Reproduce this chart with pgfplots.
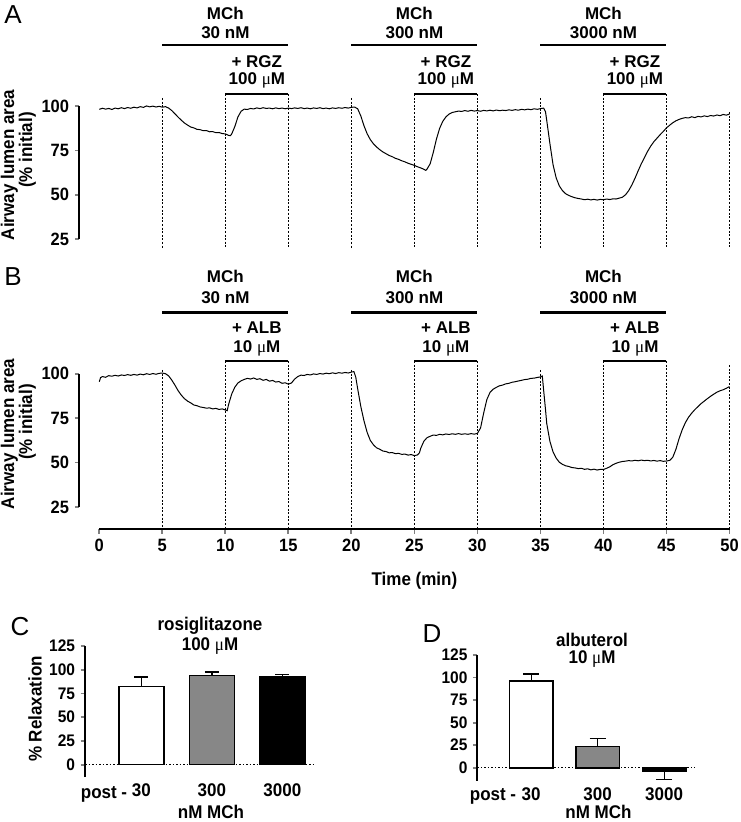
\documentclass[border=0pt]{standalone}
\usepackage{pgfplots}
\pgfplotsset{compat=1.18}
\usepackage{graphicx}
\usepackage{fontspec}
\setmainfont{Liberation Sans}
\newfontfamily\seriff{Liberation Serif}
\newcommand{\um}{{\seriff\mdseries μ}M}
\newcommand{\vs}[1]{\scalebox{1}[1.08]{#1}}
\newcommand{\fT}{\fontsize{16.5}{18}\selectfont\bfseries}
\newcommand{\fL}{\fontsize{17}{19}\selectfont\bfseries}
\newcommand{\fS}{\fontsize{15.5}{17}\selectfont\bfseries}
\newcommand{\fP}{\fontsize{26}{28}\selectfont\mdseries}
\tikzset{vdash/.style={black, line width=0.8pt, dash pattern=on 2pt off 1.6pt},
         hbar/.style={black, line width=2.2pt},
         every node/.append style={inner sep=0pt}}
\pgfplotsset{emark/.style 2 args={error bars/.cd, y dir=#2, y explicit, error bar style={line width=1.3pt},
  error mark options={rotate=90, line width=1.3pt, mark size=#1, black}}}
\begin{document}
\begin{tikzpicture}
\path[use as bounding box] (0pt,0pt) rectangle (740pt,-822pt);
% ---------------- Panel A ----------------
\begin{axis}[
  at={(99.3pt,-239pt)}, anchor=south west,
  scale only axis, width=630.2pt, height=132.7pt,
  xmin=0, xmax=50, ymin=25, ymax=100,
  clip=false, hide x axis,
  axis y line*=left, axis y line shift=20pt,
  ytick={25,50,75,100},
  tick align=outside, major tick length=4.5pt,
  y axis line style={line width=1.8pt},
  ytick style={line width=1.8pt},
  yticklabel style={font=\fT, inner sep=0pt, xshift=-5.5pt},
  yticklabel={\vs{\pgfmathprintnumber{\tick}}},
  /pgf/number format/assume math mode=true,
]
\foreach \t in {5,20,35} {\edef\tmp{\noexpand\draw[vdash] (axis cs:\t,104.7) -- (axis cs:\t,19.9);}\tmp}
\foreach \t in {10,15,25,30,40,45} {\edef\tmp{\noexpand\draw[vdash] (axis cs:\t,106.9) -- (axis cs:\t,19.9);}\tmp}
\draw[vdash] (axis cs:50,96.8) -- (axis cs:50,19.9);
\draw[hbar] (axis cs:5,134.6) -- (axis cs:15,134.6);
\draw[hbar] (axis cs:10,106.95) -- (axis cs:15,106.95);
\draw[hbar] (axis cs:20,134.6) -- (axis cs:30,134.6);
\draw[hbar] (axis cs:25,106.95) -- (axis cs:30,106.95);
\draw[hbar] (axis cs:35,134.6) -- (axis cs:45,134.6);
\draw[hbar] (axis cs:40,106.95) -- (axis cs:45,106.95);
\node[font=\fL] at (axis cs:10,152.7) {MCh};
\node[font=\fL] at (axis cs:10,141.4) {30 nM};
\node[font=\fL] at (axis cs:12.5,125.3) {+ RGZ};
\node[font=\fL] at (axis cs:12.5,114.7) {100 \um};
\node[font=\fL] at (axis cs:25,152.7) {MCh};
\node[font=\fL] at (axis cs:25,141.4) {300 nM};
\node[font=\fL] at (axis cs:27.5,125.3) {+ RGZ};
\node[font=\fL] at (axis cs:27.5,114.7) {100 \um};
\node[font=\fL] at (axis cs:40,152.7) {MCh};
\node[font=\fL] at (axis cs:40,141.4) {3000 nM};
\node[font=\fL] at (axis cs:42.5,125.3) {+ RGZ};
\node[font=\fL] at (axis cs:42.5,114.7) {100 \um};
\addplot[black, line width=1pt] table {
x y
0.00 98.3
0.25 98.9
0.50 98.4
0.75 98.8
1.00 98.2
1.25 99.0
1.50 98.6
1.75 99.2
2.00 98.7
2.25 99.3
2.50 98.9
2.75 99.5
3.00 99.1
3.25 99.8
3.50 99.4
3.75 100.2
4.00 99.7
4.25 100.1
4.50 99.6
4.75 100.0
5.00 99.5
5.25 99.8
5.50 99.0
5.75 97.6
6.00 95.8
6.25 93.9
6.50 92.2
6.75 90.6
7.00 89.4
7.25 88.3
7.50 87.8
7.75 87.0
8.00 86.8
8.25 86.2
8.50 86.3
8.75 85.6
9.00 85.7
9.25 85.1
9.50 85.2
9.75 84.6
10.00 84.4
10.25 83.6
10.40 83.4
10.50 84.3
10.75 88.5
11.00 94.0
11.25 97.2
11.50 98.4
11.75 98.2
12.00 98.8
12.25 98.5
12.50 99.1
12.75 98.7
13.00 99.2
13.25 98.8
13.50 99.0
13.75 98.6
14.00 99.1
14.25 98.7
14.50 99.0
14.75 98.6
15.00 99.0
15.25 98.7
15.50 99.1
15.75 98.8
16.00 99.2
16.25 98.7
16.50 99.0
16.75 98.6
17.00 99.1
17.25 98.8
17.50 99.2
17.75 98.7
18.00 99.0
18.25 98.6
18.50 99.1
18.75 98.8
19.00 99.2
19.25 98.9
19.50 99.3
19.75 99.0
20.00 99.4
20.25 99.6
20.50 98.6
20.75 94.5
21.00 89.0
21.25 84.5
21.50 81.2
21.75 78.8
22.00 77.0
22.25 75.5
22.50 74.2
22.75 73.2
23.00 72.2
23.25 71.5
23.50 70.6
23.75 70.0
24.00 69.2
24.25 68.6
24.50 67.8
24.75 67.2
25.00 66.6
25.25 65.8
25.50 65.2
25.75 64.4
25.90 63.8
26.00 64.5
26.25 67.5
26.50 74.0
26.75 81.5
27.00 87.5
27.25 91.5
27.50 94.0
27.75 95.6
28.00 96.5
28.25 96.9
28.50 97.3
28.75 97.1
29.00 97.6
29.25 97.2
29.50 97.7
29.75 97.3
30.00 97.6
30.25 97.2
30.50 97.7
30.75 97.4
31.00 97.8
31.25 97.4
31.50 97.9
31.75 97.5
32.00 97.8
32.25 97.6
32.50 98.0
32.75 97.7
33.00 98.1
33.25 97.8
33.50 98.3
33.75 98.0
34.00 98.4
34.25 98.1
34.50 98.6
34.75 98.3
35.00 98.7
35.25 99.0
35.40 97.0
35.50 92.0
35.75 79.0
36.00 67.0
36.25 59.5
36.50 55.0
36.75 52.3
37.00 50.6
37.25 49.6
37.50 48.9
37.75 48.3
38.00 47.9
38.25 47.6
38.50 47.2
38.75 47.5
39.00 47.1
39.25 47.4
39.50 47.0
39.75 47.4
40.00 47.2
40.25 47.6
40.50 47.3
40.75 47.7
41.00 47.6
41.25 48.1
41.50 48.6
41.75 50.0
42.00 52.3
42.25 55.5
42.50 59.3
42.75 63.5
43.00 67.5
43.25 71.0
43.50 74.5
43.75 77.5
44.00 80.0
44.25 82.0
44.50 84.0
44.75 85.8
45.00 87.8
45.25 89.3
45.50 90.7
45.75 91.8
46.00 92.6
46.25 93.2
46.50 93.6
46.75 93.4
47.00 94.1
47.25 93.6
47.50 94.3
47.75 94.0
48.00 94.6
48.25 94.2
48.50 94.8
48.75 94.5
49.00 95.1
49.25 94.7
49.50 95.4
49.75 95.0
50.00 95.6
};
\end{axis}
% ---------------- Panel B ----------------
\begin{axis}[
  at={(99.3pt,-507pt)}, anchor=south west,
  scale only axis, width=630.2pt, height=133.3pt,
  xmin=0, xmax=50, ymin=25, ymax=100,
  clip=false,
  axis x line*=bottom, axis y line*=left,
  axis y line shift=20pt, axis x line shift=22pt,
  ytick={25,50,75,100}, xtick={0,5,...,50},
  tick align=outside, major tick length=4.5pt,
  axis line style={line width=1.8pt},
  tick style={line width=1.8pt},
  ticklabel style={font=\fT},
  yticklabel style={inner sep=0pt, xshift=-5.5pt},
  xticklabel style={inner sep=0pt, yshift=-5.5pt},
  yticklabel={\vs{\pgfmathprintnumber{\tick}}},
  xticklabel={\vs{\pgfmathprintnumber{\tick}}},
  xlabel={\vs{Time (min)}}, xlabel style={font=\fL, inner sep=0pt, yshift=-20pt},
  /pgf/number format/assume math mode=true,
]
\foreach \t in {5,20,35} {\edef\tmp{\noexpand\draw[vdash] (axis cs:\t,102.1) -- (axis cs:\t,12.6);}\tmp}
\foreach \t in {10,15,25,30,40,45} {\edef\tmp{\noexpand\draw[vdash] (axis cs:\t,107.2) -- (axis cs:\t,12.6);}\tmp}
\draw[vdash] (axis cs:50,104.9) -- (axis cs:50,12.6);
\draw[hbar] (axis cs:5,134.5) -- (axis cs:15,134.5);
\draw[hbar] (axis cs:10,107.3) -- (axis cs:15,107.3);
\draw[hbar] (axis cs:20,134.5) -- (axis cs:30,134.5);
\draw[hbar] (axis cs:25,107.3) -- (axis cs:30,107.3);
\draw[hbar] (axis cs:35,134.5) -- (axis cs:45,134.5);
\draw[hbar] (axis cs:40,107.3) -- (axis cs:45,107.3);
\node[font=\fL] at (axis cs:10,154.6) {MCh};
\node[font=\fL] at (axis cs:10,142.6) {30 nM};
\node[font=\fL] at (axis cs:12.5,125.9) {+ ALB};
\node[font=\fL] at (axis cs:12.5,114.3) {10 \um};
\node[font=\fL] at (axis cs:25,154.6) {MCh};
\node[font=\fL] at (axis cs:25,142.6) {300 nM};
\node[font=\fL] at (axis cs:27.5,125.9) {+ ALB};
\node[font=\fL] at (axis cs:27.5,114.3) {10 \um};
\node[font=\fL] at (axis cs:40,154.6) {MCh};
\node[font=\fL] at (axis cs:40,142.6) {3000 nM};
\node[font=\fL] at (axis cs:42.5,125.9) {+ ALB};
\node[font=\fL] at (axis cs:42.5,114.3) {10 \um};
\addplot[black, line width=1pt] table {
x y
0.00 95.5
0.10 97.8
0.25 98.4
0.50 98.0
0.75 98.9
1.00 98.6
1.25 99.1
1.50 98.7
1.75 99.3
2.00 99.0
2.25 99.5
2.50 99.1
2.75 99.6
3.00 99.2
3.25 99.8
3.50 99.4
3.75 100.0
4.00 99.6
4.25 100.1
4.50 99.7
4.75 100.2
5.00 100.4
5.25 100.0
5.50 98.8
5.75 96.4
6.00 93.6
6.25 90.5
6.50 88.0
6.75 86.0
7.00 84.6
7.25 83.6
7.50 82.4
7.75 82.0
8.00 81.3
8.25 81.0
8.50 80.6
8.75 80.8
9.00 80.2
9.25 80.5
9.50 79.9
9.75 80.2
10.00 79.6
10.15 79.2
10.25 82.5
10.50 88.5
10.75 92.4
11.00 94.8
11.25 96.0
11.50 96.8
11.75 97.4
12.00 97.0
12.25 97.6
12.50 96.8
12.75 97.2
13.00 96.3
13.25 96.8
13.50 95.8
13.75 96.2
14.00 95.3
14.25 95.6
14.50 94.6
14.75 94.9
15.00 94.1
15.25 94.8
15.50 97.0
15.75 98.4
16.00 99.2
16.25 99.0
16.50 99.6
16.75 99.3
17.00 99.9
17.25 99.6
17.50 100.1
17.75 99.8
18.00 100.3
18.25 100.0
18.50 100.5
18.75 100.1
19.00 100.6
19.25 100.3
19.50 100.7
19.75 100.4
20.00 100.9
20.20 101.2
20.35 98.0
20.50 91.5
20.75 81.5
21.00 73.5
21.25 67.0
21.50 62.5
21.75 60.0
22.00 58.3
22.25 57.5
22.50 56.5
22.75 56.2
23.00 55.5
23.25 55.6
23.50 55.0
23.75 55.2
24.00 54.6
24.25 54.8
24.50 54.2
24.75 54.5
25.00 53.9
25.25 54.3
25.40 55.5
25.50 58.0
25.75 62.0
26.00 64.0
26.25 64.8
26.50 65.5
26.75 65.3
27.00 65.9
27.25 65.6
27.50 66.1
27.75 65.8
28.00 66.2
28.25 65.9
28.50 66.3
28.75 65.9
29.00 66.2
29.25 65.9
29.50 66.3
29.75 66.0
30.00 66.4
30.25 69.5
30.50 78.0
30.75 85.5
31.00 89.5
31.25 91.3
31.50 92.3
31.75 93.2
32.00 93.6
32.25 94.3
32.50 94.6
32.75 95.2
33.00 95.5
33.25 95.9
33.50 96.3
33.75 96.7
34.00 96.9
34.25 97.4
34.50 97.5
34.75 97.9
35.00 98.2
35.15 98.7
35.25 91.0
35.40 80.0
35.50 72.0
35.75 62.0
36.00 56.0
36.25 52.5
36.50 50.2
36.75 49.0
37.00 48.2
37.25 47.8
37.50 47.2
37.75 47.0
38.00 46.6
38.25 46.8
38.50 46.2
38.75 46.5
39.00 45.9
39.25 46.3
39.50 45.8
39.75 46.2
40.00 46.1
40.25 46.8
40.50 47.6
40.75 48.8
41.00 49.6
41.25 50.2
41.50 50.6
41.75 50.8
42.00 51.1
42.25 50.9
42.50 51.3
42.75 51.0
43.00 51.4
43.25 51.1
43.50 51.3
43.75 50.9
44.00 51.2
44.25 50.8
44.50 51.1
44.75 50.7
45.00 50.9
45.25 51.2
45.50 53.0
45.75 57.5
46.00 63.5
46.25 68.5
46.50 72.5
46.75 75.5
47.00 77.8
47.25 79.8
47.50 81.5
47.75 83.2
48.00 84.6
48.25 86.0
48.50 87.3
48.75 88.5
49.00 89.6
49.25 90.4
49.50 91.0
49.75 91.8
50.00 92.8
};
\end{axis}
% ---------------- Panel C ----------------
\begin{axis}[
  at={(85pt,-777pt)}, anchor=south west,
  scale only axis, width=229.8pt, height=131pt,
  xmin=0.2, xmax=3.46, ymin=-13, ymax=125,
  clip=false,
  axis x line*=bottom, axis y line*=left,
  x axis line style={draw=none}, xtick style={draw=none},
  xtick={1,2,3}, xticklabels={\vs{30},\vs{300},\vs{3000}},
  ytick={0,25,...,125},
  yticklabel={\vs{\pgfmathprintnumber{\tick}}},
  tick align=outside, major tick length=4.5pt,
  y axis line style={line width=1.8pt},
  ytick style={line width=1.8pt},
  ticklabel style={font=\fS},
  yticklabel style={inner sep=0pt, xshift=-5.2pt},
  xticklabel style={font=\fL, inner sep=0pt, yshift=-2pt},
  /pgf/number format/assume math mode=true,
]
\addplot[black, line width=0.9pt, dash pattern=on 1.5pt off 2pt] coordinates {(0.2,0) (3.46,0)};
\addplot[ybar, bar width=45pt, bar shift=0pt, fill=white, draw=black, line width=1.6pt,
  emark={7pt}{plus}] coordinates {(1,82.5) +- (0,10)};
\addplot[ybar, bar width=45pt, bar shift=0pt, fill=black!47, draw=black, line width=1.6pt,
  emark={7pt}{plus}] coordinates {(2,94) +- (0,3.5)};
\addplot[ybar, bar width=45pt, bar shift=0pt, fill=black, draw=black, line width=1.6pt,
  emark={7pt}{plus}] coordinates {(3,93) +- (0,2.2)};
\end{axis}
% ---------------- Panel D ----------------
\begin{axis}[
  at={(477.3pt,-780.7pt)}, anchor=south west,
  scale only axis, width=218.1pt, height=125.7pt,
  xmin=0.19, xmax=3.47, ymin=-14.4, ymax=125,
  clip=false,
  axis x line*=bottom, axis y line*=left,
  x axis line style={draw=none}, xtick style={draw=none},
  xtick={1,2,3}, xticklabels={\vs{30},\vs{300},\vs{3000}},
  ytick={0,25,...,125},
  yticklabel={\vs{\pgfmathprintnumber{\tick}}},
  tick align=outside, major tick length=4.5pt,
  y axis line style={line width=1.8pt},
  ytick style={line width=1.8pt},
  ticklabel style={font=\fS},
  yticklabel style={inner sep=0pt, xshift=-5.2pt},
  xticklabel style={font=\fL, inner sep=0pt, yshift=-2pt},
  /pgf/number format/assume math mode=true,
]
\addplot[black, line width=0.9pt, dash pattern=on 1.5pt off 2pt] coordinates {(0.19,0) (3.47,0)};
\addplot[ybar, bar width=43.5pt, bar shift=0pt, fill=white, draw=black, line width=1.6pt,
  emark={8pt}{plus}] coordinates {(1,96) +- (0,8)};
\addplot[ybar, bar width=43.5pt, bar shift=0pt, fill=black!47, draw=black, line width=1.6pt,
  emark={8pt}{plus}] coordinates {(2,23.5) +- (0,9)};
\addplot[ybar, bar width=43.5pt, bar shift=0pt, fill=black, draw=black, line width=1.6pt,
  emark={8pt}{minus}] coordinates {(3,-4) +- (0,9)};
\end{axis}
% ---------------- free text ----------------
\begin{scope}[x=1pt, y=-1pt]
\node[font=\fP] at (13,14.5) {A};
\node[font=\fP] at (13,277) {B};
\node[font=\fP] at (20,627) {C};
\node[font=\fP] at (432,634) {D};
\node[font=\fL, rotate=90] at (9.5,165) {\vs{Airway lumen area}};
\node[font=\fL, rotate=90] at (27.5,150) {\vs{(\% initial)}};
\node[font=\fL, rotate=90] at (9.5,434) {\vs{Airway lumen area}};
\node[font=\fL, rotate=90] at (27.5,422) {\vs{(\% initial)}};
\node[font=\fL, rotate=90] at (35,709) {\vs{\% Relaxation}};
\node[font=\fL] at (210,626) {\vs{rosiglitazone}};
\node[font=\fL] at (210,646) {\vs{100 \um}};
\node[font=\fL] at (592,640) {\vs{albuterol}};
\node[font=\fL] at (592,659) {\vs{10 \um}};
\node[font=\fL, anchor=base] at (104,798) {\vs{post -}};
\node[font=\fL] at (211,812) {\vs{nM MCh}};
\node[font=\fL, anchor=base] at (493,800) {\vs{post -}};
\node[font=\fL] at (598.5,812) {\vs{nM MCh}};
\end{scope}
\end{tikzpicture}
\end{document}
